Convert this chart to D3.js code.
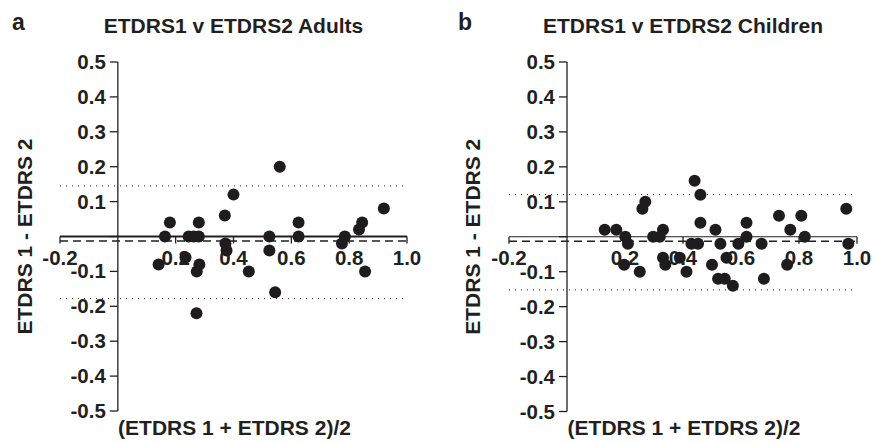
<!DOCTYPE html>
<html>
<head>
<meta charset="utf-8">
<script src="https://cdn.jsdelivr.net/npm/d3@7"></script>
<style>
  html, body { margin: 0; padding: 0; background: #fff; }
  svg { display: block; }
  text { font-family: "Liberation Sans", Arial, Helvetica, sans-serif; font-weight: bold; fill: #231f20; }
</style>
</head>
<body>
<svg id="chart" width="874" height="444"></svg>
<script>
// ---- Data ----
const panelLetters = ["a", "b"];
const panelTitles = ["ETDRS1 v ETDRS2 Adults", "ETDRS1 v ETDRS2 Children"];
const xAxisTitle = "(ETDRS 1 + ETDRS 2)/2";
const yAxisTitle = "ETDRS 1 - ETDRS 2";
const xTickValues = [-0.2, 0.2, 0.4, 0.6, 0.8, 1.0];
const xTickMarks = [-0.2, 0.2, 0.4, 0.6, 0.8, 1.0];
const yTickValues = [0.5, 0.4, 0.3, 0.2, 0.1, -0.1, -0.2, -0.3, -0.4, -0.5];
const yTickMarks = [0.5, 0.4, 0.3, 0.2, 0.1, 0, -0.1, -0.2, -0.3, -0.4, -0.5];

// Adults: mean of the two tests (x) and difference (y)
const adultsX = [0.56, 0.40, 0.92, 0.37, 0.18, 0.28, 0.625, 0.845, 0.834, 0.163, 0.245, 0.262, 0.28, 0.524, 0.625, 0.785,
                 0.372, 0.775, 0.376, 0.524, 0.234, 0.141, 0.282, 0.273, 0.453, 0.855, 0.544, 0.272];
const adultsY = [0.20, 0.12, 0.08, 0.06, 0.04, 0.04, 0.04, 0.04, 0.02, 0.0, 0.0, 0.0, 0.0, 0.0, 0.0, 0.0,
                 -0.02, -0.02, -0.04, -0.04, -0.06, -0.08, -0.08, -0.10, -0.10, -0.10, -0.16, -0.22];
// Adults bias line and 95% limits of agreement
const adultsLines = { mean: -0.013, upper: 0.145, lower: -0.178 };

// Children
const childrenX = [0.44, 0.46, 0.27, 0.26, 0.963, 0.731, 0.808, 0.46, 0.619, 0.13, 0.17, 0.331, 0.512, 0.77,
                   0.201, 0.297, 0.32, 0.619, 0.82, 0.21, 0.429, 0.452, 0.529, 0.591, 0.671, 0.97,
                   0.331, 0.389, 0.55, 0.339, 0.197, 0.5, 0.759, 0.251, 0.412, 0.521, 0.544, 0.679, 0.572];
const childrenY = [0.16, 0.12, 0.10, 0.08, 0.08, 0.06, 0.06, 0.04, 0.04, 0.02, 0.02, 0.02, 0.02, 0.02,
                   0.0, 0.0, 0.0, 0.0, 0.0, -0.02, -0.02, -0.02, -0.02, -0.02, -0.02, -0.02,
                   -0.06, -0.06, -0.06, -0.08, -0.08, -0.08, -0.08, -0.10, -0.10, -0.12, -0.12, -0.12, -0.14];
const childrenLines = { mean: -0.013, upper: 0.121, lower: -0.152 };

// ---- Layout ----
const panels = [
  { letter: panelLetters[0], title: panelTitles[0], xs: adultsX, ys: adultsY, lines: adultsLines,
    xRange: [60, 407], yRange: [411, 62], letterX: 12, yLabelX: 32, axisWidth: 2 },
  { letter: panelLetters[1], title: panelTitles[1], xs: childrenX, ys: childrenY, lines: childrenLines,
    xRange: [509, 857], yRange: [411.5, 62], letterX: 458, yLabelX: 480, axisWidth: 1.2 }
];

const svg = d3.select("#chart");
const ink = "#231f20";

panels.forEach(p => {
  const g = svg.append("g");
  const x = d3.scaleLinear().domain([-0.2, 1.0]).range(p.xRange);
  const y = d3.scaleLinear().domain([-0.5, 0.5]).range(p.yRange);
  const x0 = x(0), y0 = y(0);
  const xMid = (p.xRange[0] + p.xRange[1]) / 2;

  // Panel letter and title
  g.append("text").attr("x", p.letterX).attr("y", 30).style("font-size", "23px").text(p.letter);
  g.append("text").attr("x", xMid).attr("y", 33).attr("text-anchor", "middle")
    .style("font-size", "21px").text(p.title);

  // Y axis
  g.append("line").attr("x1", x0).attr("x2", x0).attr("y1", y(0.5)).attr("y2", y(-0.5))
    .attr("stroke", ink).attr("stroke-width", 1.3);
  g.selectAll(".ytick").data(yTickMarks).join("line")
    .attr("x1", x0 - 8).attr("x2", x0).attr("y1", d => y(d)).attr("y2", d => y(d))
    .attr("stroke", ink).attr("stroke-width", 1.3);
  g.selectAll(".ylab").data(yTickValues).join("text")
    .attr("x", x0 - 12).attr("y", d => y(d) + 7).attr("text-anchor", "end")
    .style("font-size", "20.5px").text(d => d3.format(".1f")(d).replace("−", "-"));

  // Y axis title
  g.append("text")
    .attr("transform", `translate(${p.yLabelX},${y0}) rotate(-90)`)
    .attr("text-anchor", "middle").style("font-size", "21px").text(yAxisTitle);

  // X tick labels (drawn before points so dots cover them)
  g.selectAll(".xlab").data(xTickValues).join("text")
    .attr("x", d => x(d)).attr("y", y0 + 28.5).attr("text-anchor", "middle")
    .style("font-size", "20.5px").text(d => d3.format(".1f")(d).replace("−", "-"));

  // Limits of agreement (dotted)
  [p.lines.upper, p.lines.lower].forEach(v => {
    g.append("line").attr("x1", x(-0.2)).attr("x2", x(1.0)).attr("y1", y(v)).attr("y2", y(v))
      .attr("stroke", ink).attr("stroke-width", 1).attr("stroke-dasharray", "1,5");
  });
  // Mean difference (dashed)
  g.append("line").attr("x1", x(-0.2)).attr("x2", x(1.0)).attr("y1", y(p.lines.mean)).attr("y2", y(p.lines.mean))
    .attr("stroke", ink).attr("stroke-width", 1.4).attr("stroke-dasharray", "8,5");

  // X axis at zero
  g.append("line").attr("x1", x(-0.2)).attr("x2", x(1.0)).attr("y1", y0).attr("y2", y0)
    .attr("stroke", ink).attr("stroke-width", p.axisWidth);
  g.selectAll(".xtick").data(xTickMarks).join("line")
    .attr("x1", d => x(d)).attr("x2", d => x(d)).attr("y1", y0).attr("y2", y0 + 7)
    .attr("stroke", ink).attr("stroke-width", 1.3);

  // X axis title
  g.append("text").attr("x", xMid + 1).attr("y", 435).attr("text-anchor", "middle")
    .style("font-size", "21px").text(xAxisTitle);

  // Points
  g.selectAll(".pt").data(p.xs.map((v, i) => [v, p.ys[i]])).join("circle")
    .attr("cx", d => x(d[0])).attr("cy", d => y(d[1])).attr("r", 6)
    .attr("fill", "#1e1c1c");
});
</script>
</body>
</html>
